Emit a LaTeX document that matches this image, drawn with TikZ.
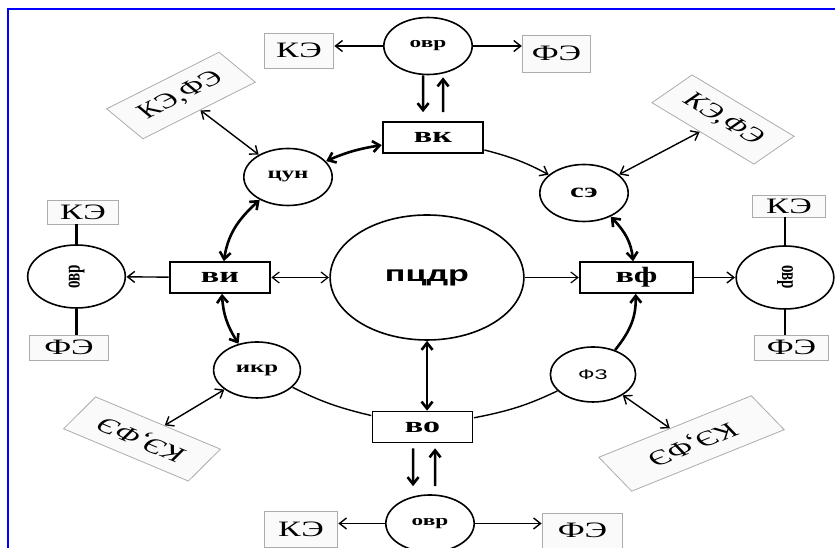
\documentclass[tikz,border=0pt]{standalone}
\usepackage{fontspec}
\setmainfont{Liberation Serif}
\setsansfont{Liberation Sans}
\usetikzlibrary{arrows.meta,calc}

\begin{document}
\begin{tikzpicture}[x=0.3226pt, y=0.5pt, xscale=1.55, transform shape,
  >={Straight Barb[length=3.5pt,width=5.5pt]},
  bubble/.style={circle, draw, line width=0.8pt, fill=white, inner sep=0pt},
  blockbox/.style={rectangle, draw, line width=0.8pt, fill=white, inner sep=0pt,
    minimum width=32.3pt, minimum height=15.5pt, font=\fontsize{11}{11}\selectfont\bfseries},
  tagbox/.style={rectangle, draw=gray!65, line width=0.4pt, fill=gray!4, inner sep=0pt,
    font=\fontsize{11}{11}\selectfont},
  slantbox/.style={tagbox, minimum height=19pt, font=\fontsize{10.5}{10.5}\selectfont},
  link/.style={line width=0.7pt},
  fineline/.style={line width=0.6pt},
  boldline/.style={line width=1.3pt}]
   \useasboundingbox (0,0) rectangle (835,-548);
   \draw[blue, line width=1.2pt] (8,-548) -- (8,-9) -- (835,-9);

   \node[bubble, minimum size=62.5pt, font=\sffamily\bfseries\fontsize{11}{11}\selectfont] (pcdr) at (427,-277.5) {пцдр};

   \node[blockbox] (vk) at (433,-137.5) {вк};
   \node[blockbox] (vi) at (220,-277.5) {ви};
   \node[blockbox, minimum width=36.5pt] (vf) at (636.5,-277.5) {вф};
   \node[blockbox] (vo) at (422.5,-427) {во};

   \node[bubble, minimum size=28.5pt, font=\fontsize{8}{8}\selectfont\bfseries] (cun) at (288,-177) {цун};
   \node[bubble, minimum size=28.5pt, font=\fontsize{10}{10}\selectfont\bfseries] (se) at (584,-193) {сэ};
   \node[bubble, minimum size=28pt, font=\fontsize{8}{8}\selectfont\bfseries] (ikr) at (257,-370) {икр};
   \node[bubble, minimum size=27.5pt, font=\sffamily\fontsize{7}{7}\selectfont] (fz) at (593,-374.5) {ФЗ};

   \node[bubble, minimum size=28.5pt, font=\fontsize{7.5}{7.5}\selectfont\bfseries] (ovrT) at (428,-46) {овр};
   \node[bubble, minimum size=28.5pt, font=\fontsize{7.5}{7.5}\selectfont\bfseries] (ovrB) at (430,-523.5) {овр};
   \node[bubble, minimum size=31.5pt, font=\fontsize{7.5}{7.5}\selectfont\bfseries] (ovrL) at (76.5,-276.5) {\rotatebox{90}{овр}};
   \node[bubble, minimum size=31.5pt, font=\fontsize{7.5}{7.5}\selectfont\bfseries] (ovrR) at (785,-277.5) {\rotatebox{-90}{овр}};

   \node[tagbox, minimum width=22.4pt, minimum height=17.5pt] (keT) at (299,-50.5) {КЭ};
   \node[tagbox, minimum width=22pt, minimum height=18.5pt] (feT) at (556.5,-53.5) {ФЭ};
   \node[tagbox, minimum width=23.7pt, minimum height=18pt] (keB) at (301,-529) {КЭ};
   \node[tagbox, minimum width=26pt, minimum height=17.5pt] (feB) at (582.5,-530.5) {ФЭ};
   \node[tagbox, minimum width=23pt, minimum height=12pt] (keL) at (83,-212) {КЭ};
   \node[tagbox, minimum width=25.7pt, minimum height=12.5pt] (feL) at (69,-347.5) {ФЭ};
   \node[tagbox, minimum width=23.7pt, minimum height=11pt] (keR) at (789,-206) {КЭ};
   \node[tagbox, minimum width=24pt, minimum height=12.5pt] (feR) at (791.5,-347.5) {ФЭ};

   \node[slantbox, rotate=38, minimum width=46pt] (ttl) at (181,-95.5) {КЭ,ФЭ};
   \node[slantbox, rotate=-43, minimum width=45pt] (ttr) at (723,-119.5) {КЭ,ФЭ};
   \node[slantbox, rotate=147, minimum width=48pt] (tbl) at (142,-439) {КЭ,ФЭ};
   \node[slantbox, rotate=-148, minimum width=58pt, minimum height=20pt] (tbr) at (691.5,-443.5) {КЭ,ФЭ};

   \draw[boldline, <->] (cun) to[bend left=10] (vk);
   \draw[link, ->] (vk) to[bend left=9] (se);
   \draw[boldline, <->] (se) to[bend left=14] (vf);
   \draw[boldline, ->] (fz) to[bend right=14] (vf);
   \draw[link] (vo) to[bend right=10] (fz);
   \draw[link] (vo) to[bend left=9] (ikr);
   \draw[boldline, <->] (ikr) to[bend left=10] (vi);
   \draw[boldline, <->] (vi) to[bend left=15] (cun);

   \draw[fineline, <->] (vi) -- (pcdr);
   \draw[fineline, ->] (pcdr) -- (vf);
   \draw[boldline, <->] (pcdr.south) -- (pcdr.south |- vo.north);

   \draw[link, ->] (vi) -- (ovrL);
   \draw[link, ->] (vf) -- (ovrR);
   \draw[boldline] (ovrL.north) -- (ovrL.north |- keL.south);
   \draw[boldline] (ovrL.south) -- (ovrL.south |- feL.north);
   \draw[boldline] (ovrR.north) -- (ovrR.north |- keR.south);
   \draw[boldline] (ovrR.south) -- (ovrR.south |- feR.north);

   \draw[link, ->] (ovrT.west) -- (ovrT.west -| keT.east);
   \draw[link, ->] (ovrT.east) -- (ovrT.east -| feT.west);
   \draw[boldline, ->] ($(ovrT.south)+(-5,0)$) -- ($(vk.north)+(-10,9)$);
   \draw[boldline, ->] ($(vk.north)+(10,9)$) -- ($(ovrT.south)+(15,-2)$);

   \draw[boldline, ->] ($(vo.south)+(-9.5,-5)$) -- ($(ovrB.north)+(-17,8)$);
   \draw[boldline, ->] ($(ovrB.north)+(5,8)$) -- ($(vo.south)+(12.5,-5)$);
   \draw[link, ->] (ovrB.west) -- (ovrB.west -| keB.east);
   \draw[link, ->] (ovrB.east) -- (ovrB.east -| feB.west);

   \draw[link, <->] (ttl) -- (cun);
   \draw[link, <->] (ttr) -- (se);
   \draw[link, <->] (tbl) -- (ikr);
   \draw[link, <->] (tbr) -- (fz);
\end{tikzpicture}
\end{document}
